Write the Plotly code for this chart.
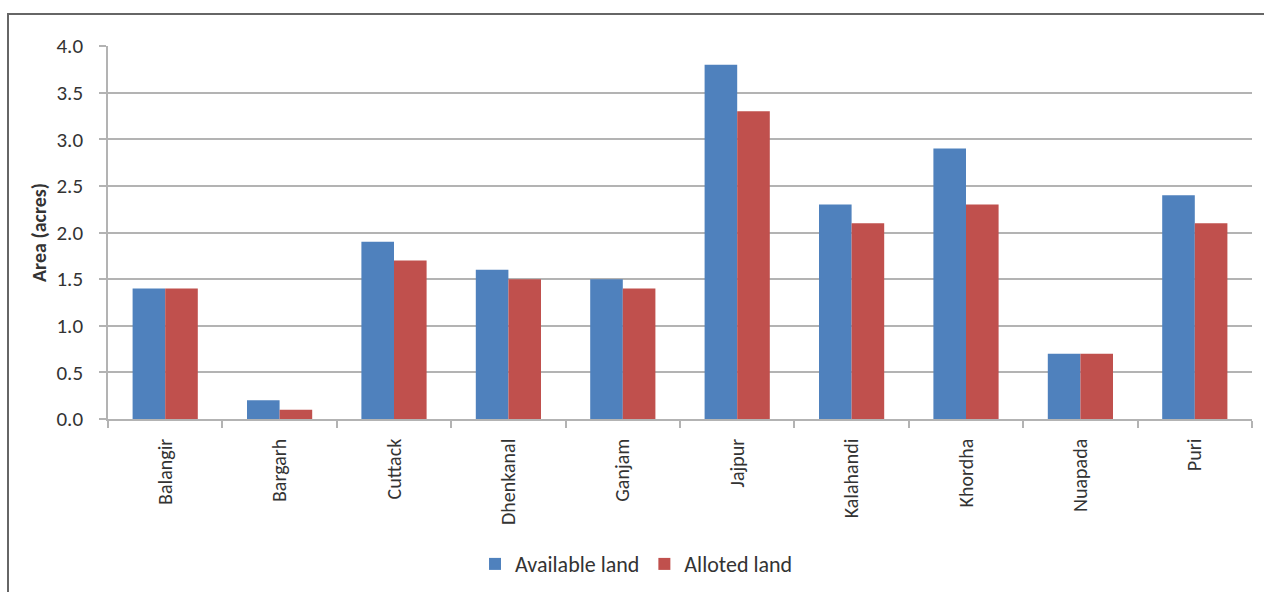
import plotly.graph_objects as go

# District-wise land area (acres)
districts = ["Balangir", "Bargarh", "Cuttack", "Dhenkanal", "Ganjam",
             "Jajpur", "Kalahandi", "Khordha", "Nuapada", "Puri"]
available_land = [1.4, 0.2, 1.9, 1.6, 1.5, 3.8, 2.3, 2.9, 0.7, 2.4]
alloted_land = [1.4, 0.1, 1.7, 1.5, 1.4, 3.3, 2.1, 2.3, 0.7, 2.1]
y_ticks = [0.0, 0.5, 1.0, 1.5, 2.0, 2.5, 3.0, 3.5, 4.0]

FONT = "Carlito, Lato, sans-serif"
TEXT = "#333333"
GRID = "#b3b3b3"

W, H = 1264, 592
L, R, T, B = 108, 12, 46, 173

fig = go.Figure()
fig.add_trace(go.Bar(name="Available land", x=districts, y=available_land,
                     marker=dict(color="#4F81BD", line=dict(width=0))))
fig.add_trace(go.Bar(name="Alloted land", x=districts, y=alloted_land,
                     marker=dict(color="#C0504D", line=dict(width=0))))

# outer frame: left and top edges
pw, ph = W - L - R, H - T - B
x_left = (8 - L) / pw
y_top = 1 + (T - 14) / ph
x_right = 1 + (R + 5) / pw
y_bottom = -(B + 5) / ph
fig.add_shape(type="path", xref="paper", yref="paper",
              path=f"M {x_left} {y_bottom} L {x_left} {y_top} L {x_right} {y_top}",
              line=dict(color="#666666", width=2))

fig.update_layout(
    width=W, height=H,
    margin=dict(l=L, r=R, t=T, b=B, autoexpand=False),
    paper_bgcolor="white", plot_bgcolor="white",
    barmode="group", bargap=0.43, bargroupgap=0,
    font=dict(family=FONT, color=TEXT, size=20),
    legend=dict(orientation="h", x=0.462, xanchor="center", y=-0.389,
                yanchor="middle", font=dict(size=22, family=FONT, color=TEXT),
                itemwidth=30, traceorder="normal"),
    xaxis=dict(showline=True, linecolor=GRID, linewidth=1.5,
               ticks="outside", tickson="boundaries", ticklen=7,
               tickcolor=GRID, tickwidth=1.5, tickangle=-90,
               ticklabelstandoff=10,
               tickfont=dict(size=20, family=FONT, color=TEXT),
               showgrid=False),
    yaxis=dict(range=[0, 4.0], tickvals=y_ticks,
               ticktext=[f"{v:.1f}" for v in y_ticks],
               showline=True, linecolor=GRID, linewidth=1.5,
               ticks="outside", ticklen=7, tickcolor=GRID, tickwidth=1.5,
               ticklabelstandoff=12,
               showgrid=True, gridcolor=GRID, gridwidth=1.5,
               zeroline=False,
               tickfont=dict(size=21, family=FONT, color=TEXT),
               title=dict(text="<b>Area (acres)</b>", standoff=4,
                          font=dict(size=20, family=FONT, color=TEXT))),
)

fig.write_html("out.html")
